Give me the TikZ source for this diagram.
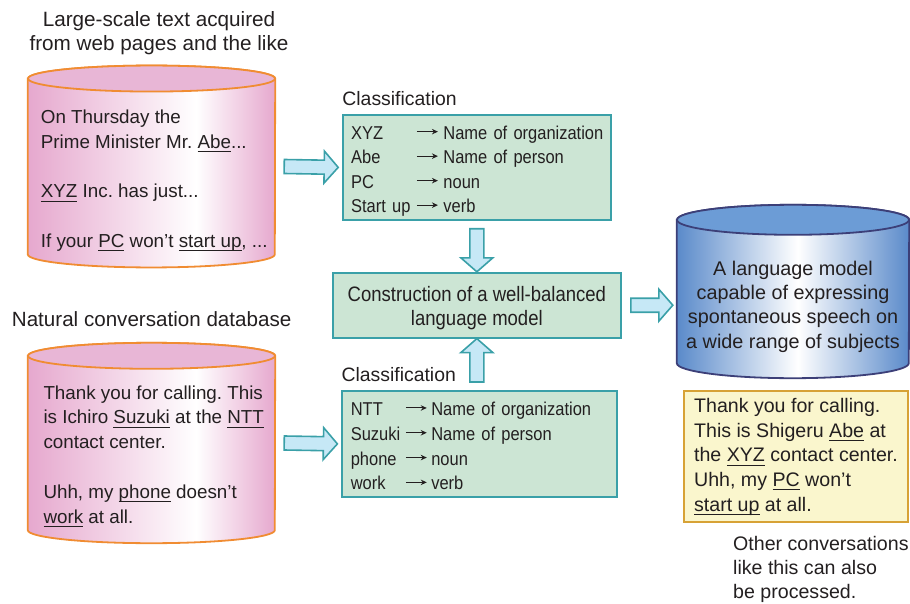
\documentclass[tikz,border=0pt]{standalone}
\usepackage{fontspec}
\setmainfont{Liberation Sans}
\newfontfamily\narrowsans{Liberation Sans}[FakeStretch=0.886]
\usepackage{xcolor}
\usetikzlibrary{positioning}
\usetikzlibrary{calc}
\usetikzlibrary{arrows.meta}

\definecolor{pinkside}{HTML}{E6A8CE}
\definecolor{pinktop}{HTML}{E8B6D6}
\definecolor{drumorange}{HTML}{F08C32}
\definecolor{blueside}{HTML}{5A8ACA}
\definecolor{bluetop}{HTML}{6C9CD6}
\definecolor{blueline}{HTML}{3C3F78}
\definecolor{clsgreen}{HTML}{CCE5D4}
\definecolor{clsteal}{HTML}{3AA0A8}
\definecolor{arrowfill}{HTML}{C6E8F6}
\definecolor{convyellow}{HTML}{FAF6CD}
\definecolor{convgold}{HTML}{D7A236}
\definecolor{inktext}{HTML}{231F20}

\pgfdeclarehorizontalshading{pinkbody}{100bp}{color(0bp)=(pinkside); color(25bp)=(pinkside); color(59bp)=(white); color(75bp)=(pinkside); color(100bp)=(pinkside)}
\pgfdeclarehorizontalshading{bluebody}{100bp}{color(0bp)=(blueside); color(25bp)=(blueside); color(51bp)=(white); color(75bp)=(blueside); color(100bp)=(blueside)}

\frenchspacing
\newcommand{\setfs}[2]{\fontsize{#1}{#2}\selectfont}
\newcommand{\ulword}[1]{\setbox0\hbox{#1}\rlap{\vrule width\wd0 height -2.9pt depth 4pt}\box0\relax}
\newcommand{\maparrow}{\tikz[baseline=-7.5pt]\draw[draw=inktext, line width=1pt, -{Stealth[length=6pt, width=5.5pt]}] (0pt,0pt) -- (21pt,0pt);}

% body node name, x radius, y radius, shading, top colour, outline colour
\newcommand{\drawdrum}[6]{%
  \shadedraw[draw=#6, shading=#4, line width=1.8pt] (#1.north west) -- (#1.south west)
    arc[start angle=180, end angle=360, x radius=#2pt, y radius=#3pt] -- (#1.north east)
    arc[start angle=0, end angle=180, x radius=#2pt, y radius=#3pt] -- cycle;
  \filldraw[draw=#6, fill=#5, line width=1.8pt] (#1.north) ellipse[x radius=#2pt, y radius=#3pt];}

% block arrow from #1 to #2
\newcommand{\fatarrow}[2]{%
  \draw[fatshaft] let \p1=(#1), \p2=(#2), \n1={atan2(\y2-\y1,\x2-\x1)}, \n2={veclen(\x2-\x1,\y2-\y1)} in
    [shift={(\p1)}, rotate=\n1] (0pt,-7pt) -- ({\n2-14pt},-7pt) -- ({\n2-14pt},-16pt) -- (\n2,0pt)
    -- ({\n2-14pt},16pt) -- ({\n2-14pt},7pt) -- (0pt,7pt) -- cycle;}

\tikzset{clsbox/.style={draw=clsteal, fill=clsgreen, line width=1.8pt},
fatshaft/.style={draw=clsteal, fill=arrowfill, line width=1.6pt, line join=miter},
convbox/.style={draw=convgold, fill=convyellow, line width=2pt}}

\begin{document}
\begin{tikzpicture}[x=1pt, y=1pt, inner sep=0pt, text=inktext, font=\setfs{18.8}{24.8}]
\useasboundingbox (0,0) rectangle (910,-604);

% text from the web
\node[font=\setfs{20.7}{23.3}, align=center, anchor=north] (webhead) at (159,-11.6)
  {Large-scale text acquired\\from web pages and the like};
\node[minimum width=247pt, minimum height=175.5pt] (webdb) at (151.5,-166.5) {};
\drawdrum{webdb}{123.5}{13}{pinkbody}{pinktop}{drumorange}
\node[align=left, anchor=north west] (webtxt) at (40.7,-109.6)
  {On Thursday the\\Prime Minister Mr. \ulword{Abe}...\\[24.8pt]\ulword{XYZ} Inc. has just...\\[24.8pt]If your \ulword{PC} won't \ulword{start up}, ...};

% conversations
\node[font=\setfs{20.6}{24}, anchor=base west] (talkhead) at (11.7,-326) {Natural conversation database};
\node[minimum width=247pt, minimum height=174pt] (talkdb) at (151.5,-443) {};
\drawdrum{talkdb}{123.5}{13}{pinkbody}{pinktop}{drumorange}
\node[align=left, anchor=north west] (talktxt) at (43.3,-385.3)
  {Thank you for calling. This\\is Ichiro \ulword{Suzuki} at the \ulword{NTT}\\contact center.\\[24.8pt]Uhh, my \ulword{phone} doesn't\\\ulword{work} at all.};

% classification boxes
\node[clsbox, anchor=north, minimum width=267.5pt, minimum height=105pt, inner xsep=8pt,
  text width=251.5pt, align=left, font=\narrowsans\setfs{18.6}{24.5}] (clsA) at (476.85,-114)
  {\raisebox{-3.6pt}[\height][\depth]{\begin{tabular}{@{}l@{\hspace{6pt}}l@{}}
  XYZ & \maparrow\hspace{5pt}Name of organization\\
  Abe & \maparrow\hspace{5pt}Name of person\\
  PC & \maparrow\hspace{5pt}noun\\
  Start up & \maparrow\hspace{5pt}verb
  \end{tabular}}};
\node[above=8pt of clsA.north west, anchor=base west, font=\setfs{19.4}{24}] (clsAlbl) {Classification};

\node[clsbox, anchor=north, minimum width=274.7pt, minimum height=106pt, inner xsep=8.5pt,
  text width=257.7pt, align=left, font=\narrowsans\setfs{18.6}{24.8}] (clsB) at (479.65,-390)
  {\raisebox{-3.8pt}[\height][\depth]{\begin{tabular}{@{}l@{\hspace{5pt}}l@{}}
  NTT & \maparrow\hspace{4pt}Name of organization\\
  Suzuki & \maparrow\hspace{4pt}Name of person\\
  phone & \maparrow\hspace{4pt}noun\\
  work & \maparrow\hspace{4pt}verb
  \end{tabular}}};
\node[above=9pt of clsB.north west, anchor=base west, font=\setfs{19.4}{24}] (clsBlbl) {Classification};

\node[clsbox, minimum width=288.3pt, minimum height=65pt, align=center, font=\narrowsans\setfs{20.9}{24.3}] (build) at (476.85,-305.2)
  {\rule{0pt}{21.6pt}Construction of a well-balanced\\language model};

% language model
\node[minimum width=232pt, minimum height=143pt] (lmdb) at (793,-291.5) {};
\drawdrum{lmdb}{116}{15}{bluebody}{bluetop}{blueline}
\node[align=center, anchor=north, font=\setfs{19.8}{24.4}] (lmtxt) at (793,-260.5)
  {A language model\\capable of expressing\\spontaneous speech on\\a wide range of subjects};

\node[convbox, anchor=north west, minimum width=224pt, inner xsep=10pt, inner ysep=7.4pt,
  align=left, font=\setfs{19.6}{24.6}] (conv) at (683,-390)
  {Thank you for calling.\\This is Shigeru \ulword{Abe} at\\the \ulword{XYZ} contact center.\\Uhh, my \ulword{PC} won't\\\ulword{start up} at all.};
\node[align=left, anchor=north west, font=\setfs{19.6}{24}] (other) at (733,-535.7)
  {Other conversations\\like this can also\\be processed.};

% block arrows
\path (lmdb.west |- build.east) ++(-4,0) coordinate (lmin);
\path (build.south |- clsB.north) ++(0,8) coordinate (upfoot);
\fatarrow{[xshift=9pt]webdb.east}{[xshift=-4pt]clsA.west}
\fatarrow{[xshift=9pt]talkdb.east}{[xshift=-4pt]clsB.west}
\fatarrow{[yshift=-8pt]clsA.south}{build.north}
\fatarrow{upfoot}{build.south}
\fatarrow{[xshift=9pt]build.east}{lmin}
\end{tikzpicture}
\end{document}
